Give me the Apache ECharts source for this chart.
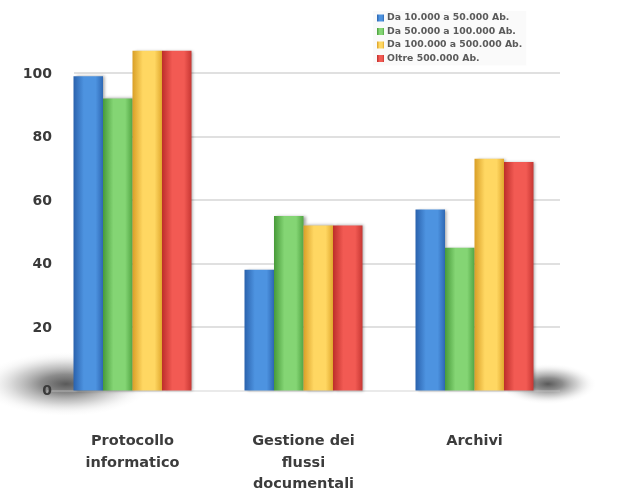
<!DOCTYPE html>
<html>
<head>
<meta charset="utf-8">
<script src="https://cdn.jsdelivr.net/npm/echarts@6/dist/echarts.min.js"></script>
<style>
  html, body { margin: 0; padding: 0; background: #ffffff; }
  #chart { width: 620px; height: 502px; }
</style>
</head>
<body>
<div id="chart"></div>
<script>
// Categories (x axis)
const categories = ['Protocollo\ninformatico', 'Gestione dei\nflussi\ndocumentali', 'Archivi'];

// Series names (population bands)
const seriesNames = [
  'Da 10.000 a 50.000 Ab.',
  'Da 50.000 a 100.000 Ab.',
  'Da 100.000 a 500.000 Ab.',
  'Oltre 500.000 Ab.'
];

// Values per population band
const band1 = [99, 38, 57];
const band2 = [92, 55, 45];
const band3 = [107, 52, 73];
const band4 = [107, 52, 72];

// Y axis ticks
const yTicks = [0, 20, 40, 60, 80, 100];

// Colour ramps: [edge, highlight, edge]
const palette = [
  ['#2a62ad', '#4d93e0', '#2e68b4'],
  ['#479a39', '#84d574', '#52a644'],
  ['#d99f27', '#ffd762', '#e1a92e'],
  ['#bd2e2a', '#f25a53', '#c73733']
];

function barFill(c) {
  return new echarts.graphic.LinearGradient(0, 0, 1, 0, [
    { offset: 0, color: c[0] },
    { offset: 0.35, color: c[1] },
    { offset: 0.75, color: c[1] },
    { offset: 1, color: c[2] }
  ]);
}

const values = [band1, band2, band3, band4];
const series = values.map((v, i) => ({
  name: seriesNames[i],
  type: 'bar',
  data: v,
  barGap: '0%',
  barCategoryGap: '31%',
  itemStyle: {
    color: barFill(palette[i]),
    shadowColor: 'rgba(0,0,0,0.35)',
    shadowBlur: 3,
    shadowOffsetX: 2
  },
  z: 3
}));

// soft floor shadow under the bar rows
function floorShadow() {
  return new echarts.graphic.RadialGradient(0.5, 0.5, 0.5, [
    { offset: 0, color: 'rgba(60,60,60,0.85)' },
    { offset: 0.3, color: 'rgba(85,85,85,0.68)' },
    { offset: 0.6, color: 'rgba(130,130,130,0.38)' },
    { offset: 0.85, color: 'rgba(180,180,180,0.1)' },
    { offset: 1, color: 'rgba(220,220,220,0)' }
  ]);
}

const chart = echarts.init(document.getElementById('chart'), null, { renderer: 'canvas' });

chart.setOption({
  backgroundColor: '#ffffff',
  animation: false,
  color: palette.map(p => p[1]),
  graphic: [
    { type: 'circle', x: 66, y: 384, scaleY: 0.38, shape: { cx: 0, cy: 0, r: 84 }, style: { fill: floorShadow() }, z: -1, silent: true },
    { type: 'circle', x: 548, y: 384, scaleY: 0.42, shape: { cx: 0, cy: 0, r: 48 }, style: { fill: floorShadow() }, z: -1, silent: true }
  ],
  legend: {
    orient: 'vertical',
    left: 373,
    top: 11,
    itemWidth: 7,
    itemHeight: 7,
    itemGap: 3.5,
    icon: 'rect',
    backgroundColor: 'rgba(250,250,250,0.9)',
    padding: [2, 4, 2, 4],
    textStyle: {
      fontFamily: 'DejaVu Sans',
      fontSize: 9.3,
      lineHeight: 10,
      color: '#5a5a5a',
      fontWeight: 'bold',
      padding: [0, 0, 0, -2]
    },
    data: seriesNames
  },
  grid: {
    left: 47,
    right: 60,
    top: 9.5,
    bottom: 111.5,
    containLabel: false
  },
  xAxis: {
    type: 'category',
    data: categories,
    axisLine: { show: false },
    axisTick: { show: false },
    axisLabel: {
      margin: 40,
      fontFamily: 'DejaVu Sans',
      fontWeight: 'bold',
      fontSize: 14.5,
      lineHeight: 21.5,
      color: '#3c3c3c',
      interval: 0
    }
  },
  yAxis: {
    type: 'value',
    min: yTicks[0],
    max: 120,
    interval: yTicks[1] - yTicks[0],
    axisLine: { show: false },
    axisTick: { show: false },
    axisLabel: {
      showMaxLabel: false,
      margin: -27,
      formatter: v => (v === 0 ? '{z|0}' : '{w|' + v + '}'),
      rich: {
        w: {
          fontFamily: 'DejaVu Sans',
          fontWeight: 'bold',
          fontSize: 14,
          color: '#3a3a3a',
          backgroundColor: '#ffffff',
          padding: [3, 22, 1, 4]
        },
        z: {
          fontFamily: 'DejaVu Sans',
          fontWeight: 'bold',
          fontSize: 14,
          color: '#3a3a3a',
          padding: [3, 22, 1, 4]
        }
      }
    },
    splitLine: {
      show: true,
      showMaxLine: false,
      lineStyle: {
        color: ['rgba(200,200,200,0.5)', '#d6d6d6', '#d6d6d6', '#d6d6d6', '#d6d6d6', '#d6d6d6', 'rgba(0,0,0,0)'],
        width: 1.5
      }
    }
  },
  series: series
});
</script>
</body>
</html>
